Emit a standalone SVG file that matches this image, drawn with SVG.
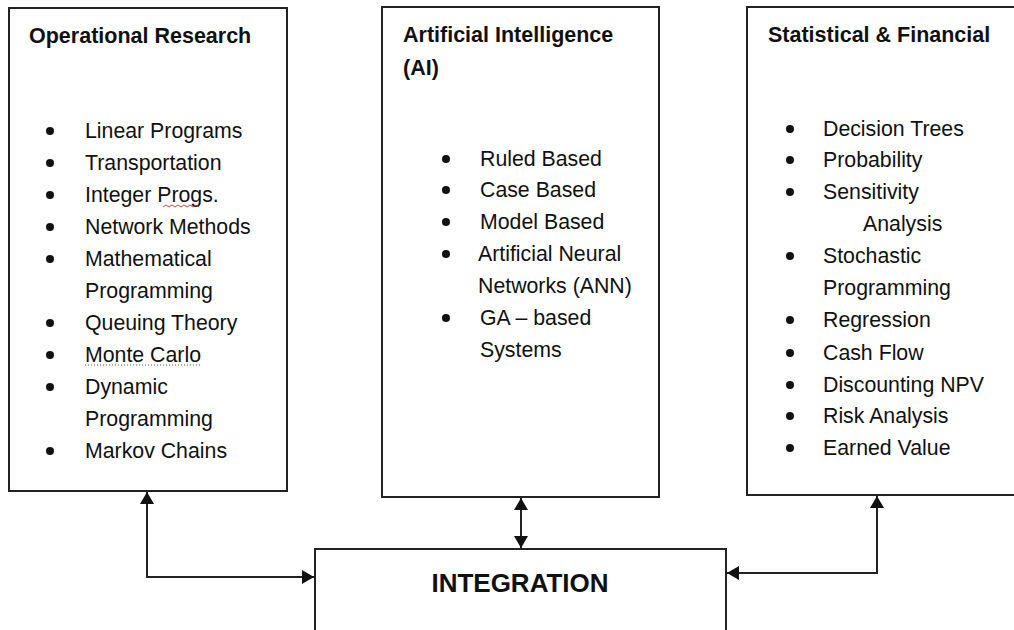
<svg xmlns="http://www.w3.org/2000/svg" width="1014" height="630" viewBox="0 0 1014 630">
  <style>
    .box { fill: #ffffff; stroke: #222222; stroke-width: 2; }
    .title { font-family: "Liberation Sans", Arial, sans-serif; font-weight: bold; font-size: 21.5px; fill: #111111; }
    .item { font-family: "Liberation Sans", Arial, sans-serif; font-size: 21.3px; fill: #111111; }
    .big { font-family: "Liberation Sans", Arial, sans-serif; font-weight: bold; font-size: 26px; fill: #111111; }
    .bullet { fill: #111111; }
    .wire { fill: none; stroke: #222222; stroke-width: 2; }
  </style>
  <defs>
    <marker id="head" viewBox="0 0 10 10" refX="10" refY="5" markerWidth="12" markerHeight="14" markerUnits="userSpaceOnUse" orient="auto-start-reverse" preserveAspectRatio="none">
      <path d="M0,0 L10,5 L0,10 z" fill="#111111"/>
    </marker>
  </defs>
  <rect x="0" y="0" width="1014" height="630" fill="#ffffff"/>

  <!-- Operational Research -->
  <g id="operational-research">
    <rect class="box" x="9" y="8" width="278" height="483"/>
    <text class="title" x="29" y="43">Operational Research</text>
    <g class="bullet">
      <circle cx="50" cy="131" r="4"/>
      <circle cx="50" cy="163" r="4"/>
      <circle cx="50" cy="195" r="4"/>
      <circle cx="50" cy="227" r="4"/>
      <circle cx="50" cy="259" r="4"/>
      <circle cx="50" cy="323" r="4"/>
      <circle cx="50" cy="355" r="4"/>
      <circle cx="50" cy="387" r="4"/>
      <circle cx="50" cy="451" r="4"/>
    </g>
    <text class="item" x="85" y="138">Linear Programs</text>
    <text class="item" x="85" y="170">Transportation</text>
    <text class="item" x="85" y="202">Integer Progs.</text>
    <path d="M163,207 l3,-2 l3,2 l3,-2 l3,2 l3,-2 l3,2 l3,-2 l3,2 l3,-2 l3,2 l3,-2 l3,2" fill="none" stroke="#d04040" stroke-width="1"/>
    <text class="item" x="85" y="234">Network Methods</text>
    <text class="item" x="85" y="266">Mathematical</text>
    <text class="item" x="85" y="298">Programming</text>
    <text class="item" x="85" y="330">Queuing Theory</text>
    <text class="item" x="85" y="362">Monte Carlo</text>
    <line x1="85" y1="365" x2="200" y2="365" stroke="#555555" stroke-width="1" stroke-dasharray="1,2"/>
    <text class="item" x="85" y="394">Dynamic</text>
    <text class="item" x="85" y="426">Programming</text>
    <text class="item" x="85" y="458">Markov Chains</text>
  </g>

  <!-- Artificial Intelligence -->
  <g id="artificial-intelligence">
    <rect class="box" x="382" y="7" width="277" height="490"/>
    <text class="title" x="403" y="42">Artificial Intelligence</text>
    <text class="title" x="403" y="75">(AI)</text>
    <g class="bullet">
      <circle cx="446" cy="159" r="4"/>
      <circle cx="446" cy="190" r="4"/>
      <circle cx="446" cy="222" r="4"/>
      <circle cx="446" cy="254" r="4"/>
      <circle cx="446" cy="318" r="4"/>
    </g>
    <text class="item" x="480" y="166">Ruled Based</text>
    <text class="item" x="480" y="197">Case Based</text>
    <text class="item" x="480" y="229">Model Based</text>
    <text class="item" x="478" y="261">Artificial Neural</text>
    <text class="item" x="478" y="293">Networks (ANN)</text>
    <text class="item" x="480" y="325">GA – based</text>
    <text class="item" x="480" y="357">Systems</text>
  </g>

  <!-- Statistical & Financial -->
  <g id="statistical-financial">
    <rect class="box" x="747" y="7" width="280" height="488"/>
    <text class="title" x="768" y="42">Statistical &amp; Financial</text>
    <g class="bullet">
      <circle cx="790" cy="129" r="4"/>
      <circle cx="790" cy="160" r="4"/>
      <circle cx="790" cy="192" r="4"/>
      <circle cx="790" cy="256" r="4"/>
      <circle cx="790" cy="320" r="4"/>
      <circle cx="790" cy="353" r="4"/>
      <circle cx="790" cy="385" r="4"/>
      <circle cx="790" cy="416" r="4"/>
      <circle cx="790" cy="448" r="4"/>
    </g>
    <text class="item" x="823" y="136">Decision Trees</text>
    <text class="item" x="823" y="167">Probability</text>
    <text class="item" x="823" y="199">Sensitivity</text>
    <text class="item" x="863" y="231">Analysis</text>
    <text class="item" x="823" y="263">Stochastic</text>
    <text class="item" x="823" y="295">Programming</text>
    <text class="item" x="823" y="327">Regression</text>
    <text class="item" x="823" y="360">Cash Flow</text>
    <text class="item" x="823" y="392">Discounting NPV</text>
    <text class="item" x="823" y="423">Risk Analysis</text>
    <text class="item" x="823" y="455">Earned Value</text>
  </g>

  <!-- Integration -->
  <g id="integration">
    <rect class="box" x="315" y="549" width="411" height="100"/>
    <text class="big" x="520" y="592" text-anchor="middle">INTEGRATION</text>
  </g>

  <!-- Connectors -->
  <g id="connectors">
    <path class="wire" d="M147,492 L147,577 L314,577" marker-start="url(#head)" marker-end="url(#head)"/>
    <path class="wire" d="M521,498 L521,548" marker-start="url(#head)" marker-end="url(#head)"/>
    <path class="wire" d="M877,496 L877,573 L727,573" marker-start="url(#head)" marker-end="url(#head)"/>
  </g>
</svg>
